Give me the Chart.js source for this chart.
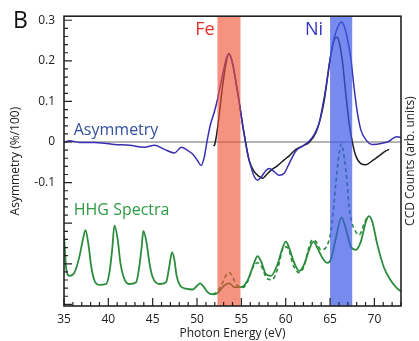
<!DOCTYPE html>
<html>
<head>
<meta charset="utf-8">
<script src="https://cdn.jsdelivr.net/npm/chart.js@4/dist/chart.umd.min.js"></script>
<style>
  html, body { margin: 0; padding: 0; background: #fff; }
  #wrap { width: 419px; height: 341px; position: relative; }
</style>
</head>
<body>
<div id="wrap"><canvas id="c" width="419" height="341"></canvas></div>
<script>
// Magnetic asymmetry (%/100) versus photon energy (eV), first measurement
const ASYM_A_ENERGY = [35.0, 35.62, 36.75, 38.43, 39.56, 40.69, 42.38, 44.07, 45.19, 46.32, 47.45, 48.24, 48.91, 49.47, 50.07, 50.45, 50.82, 51.13, 51.5, 51.95, 52.32, 52.62, 53.0, 53.3, 53.56, 53.9, 54.28, 54.65, 55.02, 55.33, 55.7, 56.08, 56.45, 56.82, 57.21, 57.77, 58.14, 58.7, 59.26, 59.83, 60.39, 61.15, 61.89, 62.64, 63.21, 63.77, 64.14, 64.53, 64.9, 65.27, 65.69, 66.28, 66.59, 66.96, 67.34, 67.71, 68.09, 68.47, 69.03, 69.77, 70.9, 71.66, 72.22, 72.59, 73.0];
const ASYM_A_VALUE = [-0.001, 0.003, -0.001, -0.001, -0.003, -0.006, -0.008, -0.013, -0.008, -0.018, -0.027, -0.013, -0.020, -0.029, -0.046, -0.058, -0.037, 0.002, 0.042, 0.074, 0.106, 0.138, 0.178, 0.206, 0.217, 0.202, 0.162, 0.114, 0.059, 0.018, -0.029, -0.061, -0.085, -0.094, -0.087, -0.070, -0.065, -0.073, -0.082, -0.077, -0.053, -0.022, -0.010, 0.002, 0.018, 0.047, 0.086, 0.134, 0.190, 0.238, 0.273, 0.296, 0.286, 0.254, 0.206, 0.134, 0.071, 0.030, 0.006, -0.006, -0.003, 0.002, 0.011, 0.013, 0.011];

// Magnetic asymmetry, second measurement
const ASYM_B_ENERGY = [51.87, 52.0, 52.32, 52.62, 52.93, 53.27, 53.58, 54.01, 54.39, 54.76, 55.14, 55.52, 55.89, 56.45, 57.02, 57.39, 57.77, 58.33, 59.08, 59.83, 60.39, 61.15, 61.89, 62.64, 63.4, 63.96, 64.34, 64.71, 65.09, 65.46, 65.77, 66.03, 66.4, 66.78, 67.15, 67.52, 67.9, 68.47, 69.03, 69.77, 70.53, 71.28, 71.66];
const ASYM_B_VALUE = [-0.010, -0.006, 0.035, 0.090, 0.146, 0.194, 0.218, 0.194, 0.146, 0.098, 0.042, -0.006, -0.046, -0.073, -0.085, -0.089, -0.082, -0.070, -0.058, -0.044, -0.034, -0.018, -0.010, -0.001, 0.023, 0.062, 0.102, 0.158, 0.214, 0.251, 0.258, 0.246, 0.198, 0.118, 0.047, -0.001, -0.034, -0.053, -0.056, -0.046, -0.034, -0.022, -0.018];

// High-harmonic spectrum, CCD counts (arb. units), transmitted
const HHG_ENERGY = [35.0, 35.11, 35.25, 35.62, 36.18, 36.75, 37.12, 37.42, 37.79, 38.06, 38.43, 39.0, 39.75, 40.12, 40.43, 40.69, 41.06, 41.36, 41.81, 42.38, 43.13, 43.5, 43.76, 43.95, 44.32, 44.63, 45.0, 45.75, 46.51, 46.88, 47.18, 47.44, 47.7, 48.09, 48.76, 49.5, 49.95, 50.34, 50.71, 51.19, 51.76, 52.32, 53.07, 53.64, 54.2, 54.95, 55.7, 56.45, 56.82, 57.21, 57.77, 58.33, 59.08, 59.64, 60.02, 60.39, 60.96, 61.52, 62.08, 62.64, 63.13, 63.58, 64.14, 64.71, 65.09, 65.65, 66.28, 66.78, 67.34, 67.91, 68.47, 69.03, 69.4, 69.77, 70.34, 71.09, 71.85, 72.59, 73.0];
const HHG_COUNTS = [24.6, 18.9, 12.8, 10.4, 11.5, 17.2, 22.8, 26.2, 20.5, 13.8, 8.8, 7.3, 7.6, 11.5, 19.4, 27.8, 22.8, 14.9, 9.3, 7.6, 8.2, 13.8, 20.5, 25.9, 21.6, 14.9, 9.9, 7.6, 8.2, 13.8, 18.5, 16.1, 10.4, 7.1, 6.0, 5.7, 6.8, 7.8, 6.8, 4.8, 4.0, 4.5, 7.1, 7.8, 6.5, 6.5, 8.8, 14.9, 17.2, 15.5, 11.0, 10.4, 14.4, 20.0, 22.2, 20.0, 14.9, 12.1, 14.4, 19.4, 22.2, 20.0, 16.6, 14.9, 16.1, 23.3, 30.6, 26.7, 20.5, 19.4, 22.2, 29.0, 31.0, 29.0, 21.1, 13.2, 8.8, 6.0, 5.1];

// High-harmonic spectrum, second acquisition (dashed)
const HHG2_ENERGY = [51.76, 52.32, 52.88, 53.3, 53.64, 53.98, 54.31, 54.76, 55.2, 55.7, 56.23, 56.82, 57.24, 57.95, 58.48, 59.08, 59.83, 60.28, 60.84, 61.52, 62.08, 62.64, 63.02, 63.43, 63.96, 64.45, 65.09, 65.35, 65.65, 65.95, 66.28, 66.62, 66.93, 67.15, 67.43, 67.71, 68.28, 68.84, 69.18, 69.4];
const HHG2_COUNTS = [4.0, 5.1, 8.1, 10.8, 11.5, 10.4, 8.1, 6.7, 6.4, 8.4, 12.8, 14.9, 13.8, 9.3, 9.1, 12.8, 20.5, 19.9, 14.1, 11.5, 13.8, 20.5, 22.8, 22.2, 19.4, 19.9, 25.6, 32.3, 42.4, 50.8, 55.9, 50.8, 42.4, 34.0, 29.0, 26.7, 24.5, 28.4, 30.6, 31.0];

// M-edge windows (eV)
const EDGE_NAMES = ['Fe', 'Ni'];
const EDGE_FROM = [52.3, 65.0];
const EDGE_TO = [54.9, 67.5];

// Labelled ticks
const X_TICKS = [35, 40, 45, 50, 55, 60, 65, 70];
const Y_TICKS = [-0.1, 0, 0.1, 0.2, 0.3];

const FONT = "'Open Sans', 'Noto Sans', sans-serif";
const EDGE_FILL = ['rgba(240,80,50,0.62)', 'rgba(60,90,230,0.70)'];
const EDGE_TEXT = ['#e0302c', '#3434c4'];

const zip = (xs, ys) => xs.map((v, i) => ({ x: v, y: ys[i] }));

const overlay = {
  id: 'overlay',
  beforeDatasetsDraw(chart) {
    const { ctx, chartArea: a, scales: { y } } = chart;
    const y0 = y.getPixelForValue(0);
    ctx.save();
    ctx.strokeStyle = '#9c9c9c';
    ctx.lineWidth = 1.5;
    ctx.beginPath();
    ctx.moveTo(a.left, y0);
    ctx.lineTo(a.right, y0);
    ctx.stroke();
    ctx.restore();
  },
  afterDatasetsDraw(chart) {
    const { ctx, chartArea: a, scales: { x, y } } = chart;
    ctx.save();
    // shaded edge windows over the curves
    EDGE_FROM.forEach((from, i) => {
      const x1 = x.getPixelForValue(from);
      const x2 = x.getPixelForValue(EDGE_TO[i]);
      ctx.fillStyle = EDGE_FILL[i];
      ctx.fillRect(x1, a.top, x2 - x1, a.bottom - a.top);
    });
    // plot frame
    ctx.strokeStyle = '#222';
    ctx.lineWidth = 1.6;
    ctx.strokeRect(a.left, a.top, a.right - a.left, a.bottom - a.top);
    // inward major/minor ticks
    ctx.lineWidth = 1.2;
    ctx.beginPath();
    for (let e = 35; e <= 73; e++) {
      const px = x.getPixelForValue(e);
      const len = e % 5 === 0 ? 8 : 4;
      ctx.moveTo(px, a.bottom);
      ctx.lineTo(px, a.bottom - len);
    }
    for (let i = -20; i <= 15; i++) {
      const py = y.getPixelForValue(i * 0.02);
      const len = i % 5 === 0 ? 8 : 4;
      ctx.moveTo(a.left, py);
      ctx.lineTo(a.left + len, py);
    }
    ctx.stroke();

    // edge names
    ctx.textBaseline = 'alphabetic';
    ctx.textAlign = 'center';
    ctx.font = `18px ${FONT}`;
    const namePos = [50.9, 63.2];
    EDGE_NAMES.forEach((n, i) => {
      ctx.fillStyle = EDGE_TEXT[i];
      ctx.fillText(n, x.getPixelForValue(namePos[i]), y.getPixelForValue(0.264));
    });

    // curve group labels
    ctx.textAlign = 'left';
    ctx.font = `16px ${FONT}`;
    ctx.fillStyle = '#34509c';
    ctx.fillText('Asymmetry', x.getPixelForValue(36.1), y.getPixelForValue(0.017));
    ctx.fillStyle = '#2e9a45';
    ctx.fillText('HHG Spectra', x.getPixelForValue(36.1), y.getPixelForValue(-0.181));

    // panel letter
    ctx.fillStyle = '#111';
    ctx.font = `23px ${FONT}`;
    ctx.fillText('B', 13, 28);

    // right-hand axis title
    ctx.fillStyle = '#222';
    ctx.font = `12px ${FONT}`;
    ctx.textAlign = 'center';
    ctx.textBaseline = 'middle';
    ctx.translate(411, (a.top + a.bottom) / 2);
    ctx.rotate(-Math.PI / 2);
    ctx.fillText('CCD Counts (arb. units)', 0, 0);
    ctx.restore();
  }
};

new Chart(document.getElementById('c'), {
  type: 'line',
  data: {
    datasets: [
      { label: 'Asymmetry A', data: zip(ASYM_A_ENERGY, ASYM_A_VALUE), yAxisID: 'y',
        borderColor: '#3a2fb0', borderWidth: 1.5 },
      { label: 'Asymmetry B', data: zip(ASYM_B_ENERGY, ASYM_B_VALUE), yAxisID: 'y',
        borderColor: '#1c1c1c', borderWidth: 1.5 },
      { label: 'HHG dashed', data: zip(HHG2_ENERGY, HHG2_COUNTS), yAxisID: 'y2',
        borderColor: '#2b8c3c', borderWidth: 1.6, borderDash: [4, 3] },
      { label: 'HHG', data: zip(HHG_ENERGY, HHG_COUNTS), yAxisID: 'y2',
        borderColor: '#2b8c3c', borderWidth: 1.8 }
    ]
  },
  options: {
    responsive: false,
    animation: false,
    devicePixelRatio: 1,
    layout: { padding: { top: 9, right: 18, left: 0, bottom: 0 } },
    elements: {
      point: { radius: 0 },
      line: { cubicInterpolationMode: 'monotone', fill: false }
    },
    plugins: { legend: { display: false }, tooltip: { enabled: false } },
    scales: {
      x: {
        type: 'linear', min: 35, max: 73,
        afterBuildTicks: s => { s.ticks = X_TICKS.map(v => ({ value: v })); },
        afterFit: s => { s.height = 35; },
        grid: { display: false, drawTicks: false },
        border: { display: false },
        ticks: { padding: 6, color: '#222', font: { family: FONT, size: 12 }, maxRotation: 0 },
        title: { display: true, text: 'Photon Energy (eV)', color: '#222',
                 font: { family: FONT, size: 12 }, padding: { top: 0, bottom: 0 } }
      },
      y: {
        type: 'linear', position: 'left', min: -0.404, max: 0.31,
        afterBuildTicks: s => { s.ticks = Y_TICKS.map(v => ({ value: v })); },
        afterFit: s => { s.width = 64; },
        grid: { display: false, drawTicks: false },
        border: { display: false },
        ticks: { padding: 9, color: '#222', font: { family: FONT, size: 12 },
                 callback: v => (v === 0 ? '0' : v.toFixed(1)) },
        title: { display: true, text: 'Asymmetry (%/100)', color: '#222',
                 font: { family: FONT, size: 12 }, padding: { top: 8, bottom: 0 } }
      },
      y2: {
        type: 'linear', position: 'right', min: 0, max: 100, display: false
      }
    }
  },
  plugins: [overlay]
});
</script>
</body>
</html>
